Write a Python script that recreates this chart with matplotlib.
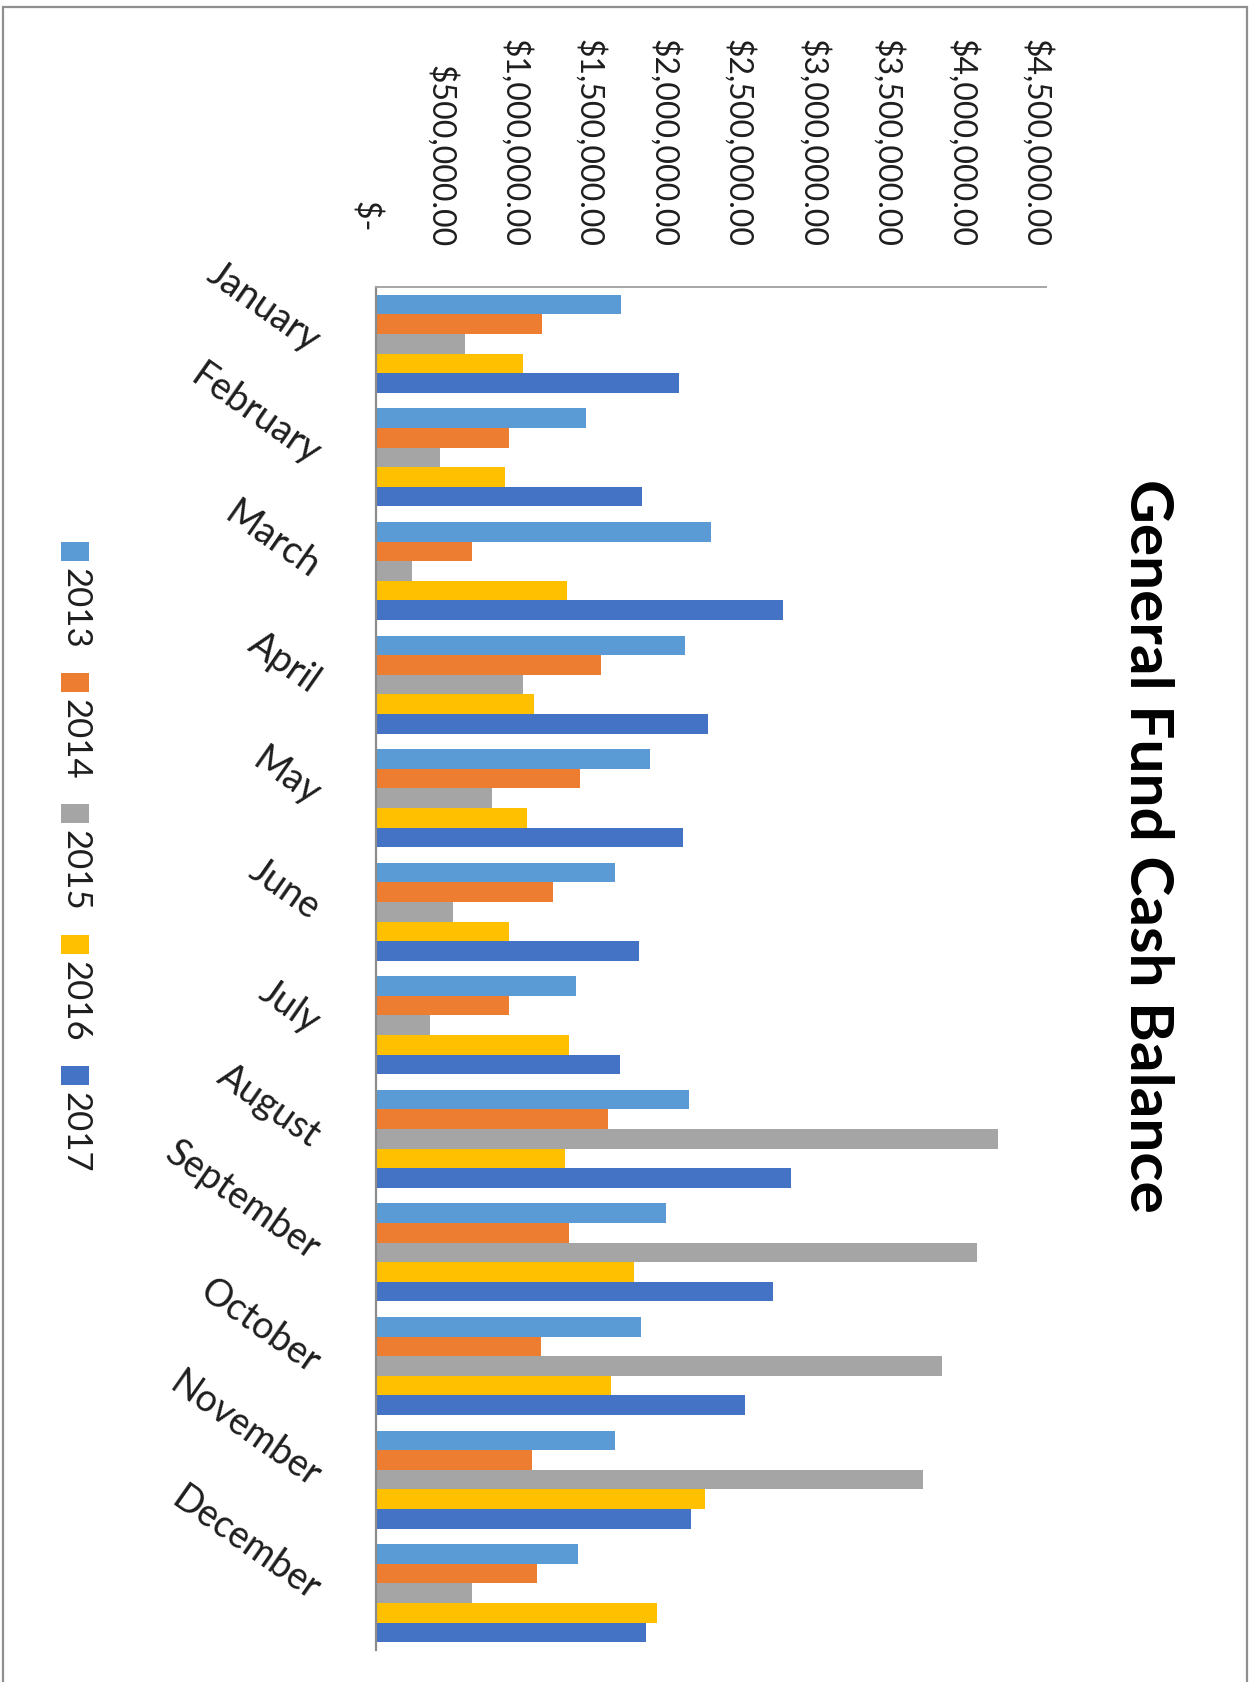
import matplotlib
matplotlib.use("Agg")
import matplotlib.pyplot as plt
from matplotlib.patches import Rectangle
from matplotlib.ticker import FixedLocator, FuncFormatter
from matplotlib.transforms import ScaledTranslation
import numpy as np

# ---- data -------------------------------------------------------------
months = ["January", "February", "March", "April", "May", "June", "July",
          "August", "September", "October", "November", "December"]
years = ["2013", "2014", "2015", "2016", "2017"]

balance_2013 = [1643000, 1410000, 2250000, 2073000, 1840000, 1607000,
                1343000, 2103000, 1951000, 1780000, 1604000, 1360000]
balance_2014 = [1115000, 895000, 647000, 1513000, 1372000, 1187000,
                891000, 1561000, 1296000, 1110000, 1046000, 1079000]
balance_2015 = [600000, 430000, 242000, 985000, 781000, 517000,
                360000, 4177000, 4036000, 3803000, 3675000, 643000]
balance_2016 = [989000, 864000, 1285000, 1061000, 1016000, 891000,
                1294000, 1267000, 1730000, 1578000, 2210000, 1890000]
balance_2017 = [2033000, 1784000, 2731000, 2230000, 2060000, 1764000,
                1639000, 2790000, 2668000, 2478000, 2118000, 1812000]

value_ticks = [0, 500000, 1000000, 1500000, 2000000, 2500000,
               3000000, 3500000, 4000000, 4500000]

title = "General Fund Cash Balance"

# ---- style ------------------------------------------------------------
series = [balance_2013, balance_2014, balance_2015, balance_2016, balance_2017]
colors = ["#5B9BD5", "#ED7D31", "#A5A5A5", "#FFC000", "#4472C4"]

plt.rcParams["font.family"] = ["Lato", "DejaVu Sans"]

W, H, DPI = 1254, 1682, 100
fig = plt.figure(figsize=(W / DPI, H / DPI), dpi=DPI)
fig.patch.set_facecolor("white")


def fx(px):
    return px / W


def fy(py):
    return 1 - py / H


# plot area (pixel box)
left, right, top, bottom = 376, 1046, 287, 1650
ax = fig.add_axes([fx(left), fy(bottom), (right - left) / W, (bottom - top) / H])

n = len(series)
bar_h = 0.1725
start = np.arange(len(months)) + (1 - bar_h * n) / 2
for k, (vals, col) in enumerate(zip(series, colors)):
    ax.barh(start + k * bar_h, vals, height=bar_h, align="edge",
            color=col, linewidth=0, label=years[k])

ax.set_xlim(0, value_ticks[-1])
ax.set_ylim(len(months), 0)

# value axis along the top, labels reading downward
ax.xaxis.tick_top()
ax.xaxis.set_major_locator(FixedLocator(value_ticks))
ax.xaxis.set_major_formatter(
    FuncFormatter(lambda v, p: "$-  " if v == 0 else f"${v:,.2f}"))
ax.tick_params(axis="x", length=0, pad=28.8, labelsize=23,
               labelrotation=-90, colors="#1E1E1E")
shift_left = ScaledTranslation(-10 / DPI, 0, fig.dpi_scale_trans)
for lbl in ax.xaxis.get_majorticklabels():
    lbl.set_transform(lbl.get_transform() + shift_left)

# category axis on the left with slanted month names
ax.set_yticks(np.arange(len(months)) + 0.5)
ax.set_yticklabels(months, rotation=-35, ha="right", va="center",
                   rotation_mode="anchor", fontsize=27, color="#1E1E1E")
ax.tick_params(axis="y", length=0, pad=43)

for side in ("right", "bottom"):
    ax.spines[side].set_visible(False)
ax.spines["left"].set_color("#8C8C8C")
ax.spines["left"].set_linewidth(1.6)
ax.spines["top"].set_color("#A6A6A6")
ax.spines["top"].set_linewidth(1.4)

# legend keys stacked down the left edge
key_top0, key_step, key_cx = 542, 131, 75
for k, (yr, col) in enumerate(zip(years, colors)):
    ky = key_top0 + k * key_step
    fig.patches.append(Rectangle((fx(key_cx - 14), fy(ky + 19)), 28 / W, 19 / H,
                                 transform=fig.transFigure, color=col, lw=0))
    fig.text(fx(key_cx), fy(ky + 26), yr, rotation=-90, ha="center", va="top",
             fontsize=25, color="#1E1E1E")

# chart title on the right edge
fig.text(fx(1147), fy(846), title, rotation=-90, ha="center", va="center",
         fontsize=43.5, fontweight="bold", color="#000000")

# outer chart frame
fig.patches.append(Rectangle((fx(3), fy(1700)), (1247 - 3) / W, (1700 - 7) / H,
                             transform=fig.transFigure, fill=False,
                             edgecolor="#8F8F8F", lw=1.6))

fig.savefig("out.png", dpi=DPI, facecolor="white")
